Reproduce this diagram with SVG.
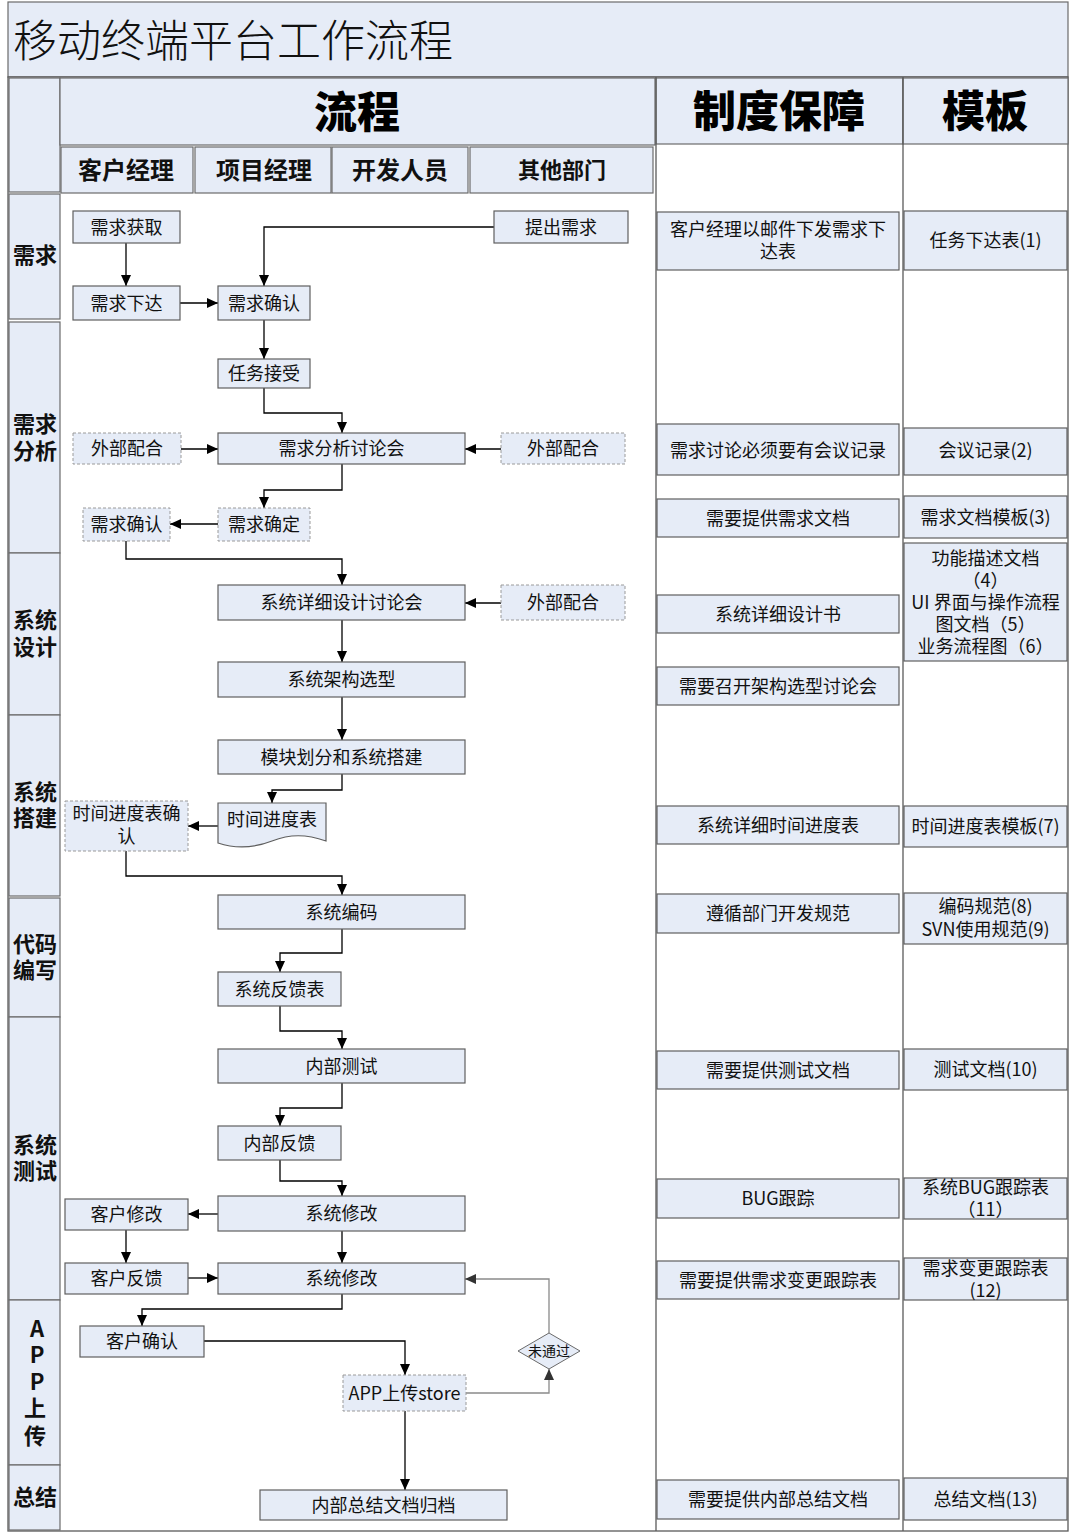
<svg xmlns="http://www.w3.org/2000/svg" width="1080" height="1536" viewBox="0 0 1080 1536">
<defs>
<style>
.bg{fill:#ffffff}
.hd{fill:#e6ecf7;stroke:#6b6b6b;stroke-width:1.2}
.b{fill:#e6ecf7;stroke:#5f5f5f;stroke-width:1.2}
.d{fill:#e6ecf7;stroke:#9a9a9a;stroke-width:1;stroke-dasharray:3 2}
.t{font-family:"Noto Sans CJK SC","Noto Sans",sans-serif;font-size:18px;text-anchor:middle;fill:#111}
.t2{font-family:"Noto Sans CJK SC","Noto Sans",sans-serif;font-size:17px;text-anchor:middle;fill:#111}
.ph{font-family:"Noto Sans CJK SC",sans-serif;font-size:22px;font-weight:700;text-anchor:middle;fill:#111}
.sh{font-family:"Noto Sans CJK SC",sans-serif;font-size:24px;font-weight:700;text-anchor:middle;fill:#111}
.big{font-family:"Noto Sans CJK SC",sans-serif;font-size:43px;font-weight:900;text-anchor:middle;fill:#000}
.ttl{font-family:"Noto Sans CJK SC",sans-serif;font-size:44px;font-weight:300;fill:#111}
.c{fill:none;stroke:#000;stroke-width:1.3}
.g{fill:none;stroke:#8a8a8a;stroke-width:1.3}
.ln{stroke:#5a5a5a;stroke-width:1.3;fill:none}
</style>
<marker id="a" viewBox="0 0 11 10" refX="11" refY="5" markerWidth="11" markerHeight="10" markerUnits="userSpaceOnUse" orient="auto"><path d="M0,0 L11,5 L0,10 z" fill="#000"/></marker>
<marker id="ag" viewBox="0 0 11 10" refX="11" refY="5" markerWidth="11" markerHeight="10" markerUnits="userSpaceOnUse" orient="auto"><path d="M0,0 L11,5 L0,10 z" fill="#333"/></marker>
</defs>
<rect class="bg" x="0" y="0" width="1080" height="1536"/>

<g id="frame">
<rect class="hd" x="8" y="2" width="1060" height="75"/>
<text class="ttl" x="13" y="57">移动终端平台工作流程</text>
<rect x="8" y="77" width="1060" height="1454" fill="#fff" stroke="#5a5a5a" stroke-width="1.3"/>
<rect class="hd" x="9" y="78" width="51" height="114"/>
<rect class="hd" x="60" y="78" width="595" height="67"/>
<text class="big" x="357" y="128">流程</text>
<rect class="hd" x="656" y="78" width="247" height="66"/>
<text class="big" x="779" y="127">制度保障</text>
<rect class="hd" x="903" y="78" width="165" height="66"/>
<text class="big" x="985" y="127">模板</text>
<rect class="hd" x="61" y="147" width="132" height="46"/>
<text class="sh" x="126" y="179">客户经理</text>
<rect class="hd" x="195" y="147" width="136" height="46"/>
<text class="sh" x="264" y="179">项目经理</text>
<rect class="hd" x="332" y="147" width="136" height="46"/>
<text class="sh" x="400" y="179">开发人员</text>
<rect class="hd" x="470" y="147" width="183" height="46"/>
<text class="sh" x="562" y="178" style="font-size:22px">其他部门</text>
<line class="ln" x1="656" y1="77" x2="656" y2="1531"/>
<line class="ln" x1="903" y1="77" x2="903" y2="1531"/>
</g>

<g id="phases">
<rect class="hd" x="9" y="194" width="51" height="125"/>
<text class="ph" x="35" y="263">需求</text>
<rect class="hd" x="9" y="322" width="51" height="231"/>
<text class="ph" x="35" y="432">需求</text><text class="ph" x="35" y="459">分析</text>
<rect class="hd" x="9" y="553" width="51" height="162"/>
<text class="ph" x="35" y="628">系统</text><text class="ph" x="35" y="655">设计</text>
<rect class="hd" x="9" y="715" width="51" height="181"/>
<text class="ph" x="35" y="800">系统</text><text class="ph" x="35" y="826">搭建</text>
<rect class="hd" x="9" y="898" width="51" height="119"/>
<text class="ph" x="35" y="952">代码</text><text class="ph" x="35" y="978">编写</text>
<rect class="hd" x="9" y="1017" width="51" height="283"/>
<text class="ph" x="35" y="1153">系统</text><text class="ph" x="35" y="1179">测试</text>
<rect class="hd" x="9" y="1300" width="51" height="165"/>
<text class="ph" x="37" y="1337">A</text><text class="ph" x="37" y="1363">P</text><text class="ph" x="37" y="1390">P</text><text class="ph" x="35" y="1416">上</text><text class="ph" x="35" y="1444">传</text>
<rect class="hd" x="9" y="1465" width="51" height="65"/>
<text class="ph" x="35" y="1505">总结</text>
</g>

<g id="connectors">
<path class="c" marker-end="url(#a)" d="M126,243 V286"/>
<path class="c" marker-end="url(#a)" d="M180,303 H218"/>
<path class="c" marker-end="url(#a)" d="M494,227 H264 V286"/>
<path class="c" marker-end="url(#a)" d="M264,320 V359"/>
<path class="c" marker-end="url(#a)" d="M264,388 V413 H342 V433"/>
<path class="c" marker-end="url(#a)" d="M181,449 H218"/>
<path class="c" marker-end="url(#a)" d="M501,449 H465"/>
<path class="c" marker-end="url(#a)" d="M342,464 V490 H264 V508"/>
<path class="c" marker-end="url(#a)" d="M218,524 H170"/>
<path class="c" marker-end="url(#a)" d="M126,541 V559 H342 V585"/>
<path class="c" marker-end="url(#a)" d="M501,603 H465"/>
<path class="c" marker-end="url(#a)" d="M342,620 V662"/>
<path class="c" marker-end="url(#a)" d="M342,697 V740"/>
<path class="c" marker-end="url(#a)" d="M342,774 V790 H272 V803"/>
<path class="c" marker-end="url(#a)" d="M218,826 H188"/>
<path class="c" marker-end="url(#a)" d="M126,851 V876 H342 V895"/>
<path class="c" marker-end="url(#a)" d="M342,929 V953 H280 V972"/>
<path class="c" marker-end="url(#a)" d="M280,1006 V1031 H342 V1049"/>
<path class="c" marker-end="url(#a)" d="M342,1083 V1108 H280 V1126"/>
<path class="c" marker-end="url(#a)" d="M280,1160 V1181 H342 V1196"/>
<path class="c" marker-end="url(#a)" d="M218,1214 H188"/>
<path class="c" marker-end="url(#a)" d="M126,1230 V1263"/>
<path class="c" marker-end="url(#a)" d="M342,1231 V1263"/>
<path class="c" marker-end="url(#a)" d="M188,1278 H218"/>
<path class="c" marker-end="url(#a)" d="M342,1294 V1309 H142 V1326"/>
<path class="c" marker-end="url(#a)" d="M204,1341 H405 V1375"/>
<path class="g" marker-end="url(#ag)" d="M466,1393 H549 V1369"/>
<path class="g" marker-end="url(#ag)" d="M549,1333 V1279 H465"/>
<path class="c" marker-end="url(#a)" d="M405,1411 V1490"/>
</g>

<g id="n1"><rect class="b" x="73" y="211" width="107" height="32"/><text class="t" x="126.5" y="233.5">需求获取</text></g>
<g id="n2"><rect class="b" x="494" y="211" width="134" height="32"/><text class="t" x="561" y="233.5">提出需求</text></g>
<g id="n3"><rect class="b" x="73" y="286" width="107" height="34"/><text class="t" x="126.5" y="309.5">需求下达</text></g>
<g id="n4"><rect class="b" x="218" y="286" width="92" height="34"/><text class="t" x="264" y="309.5">需求确认</text></g>
<g id="n5"><rect class="b" x="218" y="359" width="92" height="29"/><text class="t" x="264" y="380">任务接受</text></g>
<g id="n6"><rect class="d" x="73" y="433" width="108" height="31"/><text class="t" x="127" y="455">外部配合</text></g>
<g id="n7"><rect class="b" x="218" y="433" width="247" height="31"/><text class="t" x="341.5" y="455">需求分析讨论会</text></g>
<g id="n8"><rect class="d" x="501" y="433" width="124" height="31"/><text class="t" x="563" y="455">外部配合</text></g>
<g id="n9"><rect class="d" x="83" y="508" width="87" height="33"/><text class="t" x="126.5" y="531">需求确认</text></g>
<g id="n10"><rect class="d" x="218" y="508" width="92" height="33"/><text class="t" x="264" y="531">需求确定</text></g>
<g id="n11"><rect class="b" x="218" y="585" width="247" height="35"/><text class="t" x="341.5" y="609">系统详细设计讨论会</text></g>
<g id="n12"><rect class="d" x="501" y="585" width="124" height="35"/><text class="t" x="563" y="609">外部配合</text></g>
<g id="n13"><rect class="b" x="218" y="662" width="247" height="35"/><text class="t" x="341.5" y="686">系统架构选型</text></g>
<g id="n14"><rect class="b" x="218" y="740" width="247" height="34"/><text class="t" x="341.5" y="763.5">模块划分和系统搭建</text></g>
<g id="n15"><path class="b" d="M218,803 H326 V841 C306,834 290,834 272,841 C254,848 236,849 218,843 Z"/><text class="t" x="272" y="826">时间进度表</text></g>
<g id="n16"><rect class="d" x="65" y="801" width="123" height="50"/><text class="t" x="126.5" y="820">时间进度表确</text><text class="t" x="126.5" y="843">认</text></g>
<g id="n17"><rect class="b" x="218" y="895" width="247" height="34"/><text class="t" x="341.5" y="918.5">系统编码</text></g>
<g id="n18"><rect class="b" x="218" y="972" width="123" height="34"/><text class="t" x="279.5" y="995.5">系统反馈表</text></g>
<g id="n19"><rect class="b" x="218" y="1049" width="247" height="34"/><text class="t" x="341.5" y="1072.5">内部测试</text></g>
<g id="n20"><rect class="b" x="218" y="1126" width="123" height="34"/><text class="t" x="279.5" y="1149.5">内部反馈</text></g>
<g id="n21"><rect class="b" x="65" y="1199" width="123" height="31"/><text class="t" x="126.5" y="1221">客户修改</text></g>
<g id="n22"><rect class="b" x="218" y="1196" width="247" height="35"/><text class="t" x="341.5" y="1220">系统修改</text></g>
<g id="n23"><rect class="b" x="65" y="1263" width="123" height="31"/><text class="t" x="126.5" y="1285">客户反馈</text></g>
<g id="n24"><rect class="b" x="218" y="1263" width="247" height="31"/><text class="t" x="341.5" y="1285">系统修改</text></g>
<g id="n25"><rect class="b" x="80" y="1326" width="124" height="31"/><text class="t" x="142" y="1348">客户确认</text></g>
<g id="n26"><rect class="d" x="343" y="1375" width="123" height="36"/><text class="t" x="404.5" y="1399.5">APP上传store</text></g>
<g id="n27"><polygon points="549,1333 580,1351 549,1369 518,1351" fill="#e6ecf7" stroke="#6a6a6a" stroke-width="1"/><text class="t" x="549" y="1356" style="font-size:14px">未通过</text></g>
<g id="n28"><rect class="b" x="260" y="1490" width="247" height="30"/><text class="t" x="383.5" y="1511.5">内部总结文档归档</text></g>

<g id="rules">
<g id="r1"><rect class="b" x="657" y="212" width="242" height="58"/><text class="t" x="778" y="236">客户经理以邮件下发需求下</text><text class="t" x="778" y="258">达表</text></g>
<g id="r2"><rect class="b" x="657" y="424" width="242" height="51"/><text class="t" x="778" y="456.5">需求讨论必须要有会议记录</text></g>
<g id="r3"><rect class="b" x="657" y="499" width="242" height="38"/><text class="t" x="778" y="524.5">需要提供需求文档</text></g>
<g id="r4"><rect class="b" x="657" y="595" width="242" height="38"/><text class="t" x="778" y="620.5">系统详细设计书</text></g>
<g id="r5"><rect class="b" x="657" y="667" width="242" height="38"/><text class="t" x="778" y="692.5">需要召开架构选型讨论会</text></g>
<g id="r6"><rect class="b" x="657" y="806" width="242" height="38"/><text class="t" x="778" y="831.5">系统详细时间进度表</text></g>
<g id="r7"><rect class="b" x="657" y="894" width="242" height="39"/><text class="t" x="778" y="920">遵循部门开发规范</text></g>
<g id="r8"><rect class="b" x="657" y="1051" width="242" height="38"/><text class="t" x="778" y="1076.5">需要提供测试文档</text></g>
<g id="r9"><rect class="b" x="657" y="1179" width="242" height="39"/><text class="t" x="778" y="1205">BUG跟踪</text></g>
<g id="r10"><rect class="b" x="657" y="1261" width="242" height="38"/><text class="t" x="778" y="1286.5">需要提供需求变更跟踪表</text></g>
<g id="r11"><rect class="b" x="657" y="1480" width="242" height="39"/><text class="t" x="778" y="1506">需要提供内部总结文档</text></g>
</g>

<g id="templates">
<g id="m1"><rect class="b" x="904" y="211" width="163" height="59"/><text class="t" x="985.5" y="246.5">任务下达表(1)</text></g>
<g id="m2"><rect class="b" x="904" y="428" width="163" height="47"/><text class="t" x="985.5" y="456.5">会议记录(2)</text></g>
<g id="m3"><rect class="b" x="904" y="496" width="163" height="42"/><text class="t" x="985.5" y="523.5">需求文档模板(3)</text></g>
<g id="m4"><rect class="b" x="904" y="543" width="163" height="118"/><text class="t" x="985.5" y="564.5">功能描述文档</text><text class="t" x="985.5" y="586.5">（4）</text><text class="t" x="985.5" y="608.5">UI 界面与操作流程</text><text class="t" x="985.5" y="630.5">图文档（5）</text><text class="t" x="985.5" y="652.5">业务流程图（6）</text></g>
<g id="m5"><rect class="b" x="904" y="806" width="163" height="41"/><text class="t" x="985.5" y="832.5">时间进度表模板(7)</text></g>
<g id="m6"><rect class="b" x="904" y="893" width="163" height="51"/><text class="t" x="985.5" y="913">编码规范(8)</text><text class="t" x="985.5" y="936">SVN使用规范(9)</text></g>
<g id="m7"><rect class="b" x="904" y="1049" width="163" height="41"/><text class="t" x="985.5" y="1076">测试文档(10)</text></g>
<g id="m8"><rect class="b" x="904" y="1178" width="163" height="41"/><text class="t" x="985.5" y="1194">系统BUG跟踪表</text><text class="t" x="985.5" y="1216">（11）</text></g>
<g id="m9"><rect class="b" x="904" y="1258" width="163" height="42"/><text class="t" x="985.5" y="1275">需求变更跟踪表</text><text class="t" x="985.5" y="1297">(12)</text></g>
<g id="m10"><rect class="b" x="904" y="1478" width="163" height="42"/><text class="t" x="985.5" y="1505.5">总结文档(13)</text></g>
</g>
</svg>
